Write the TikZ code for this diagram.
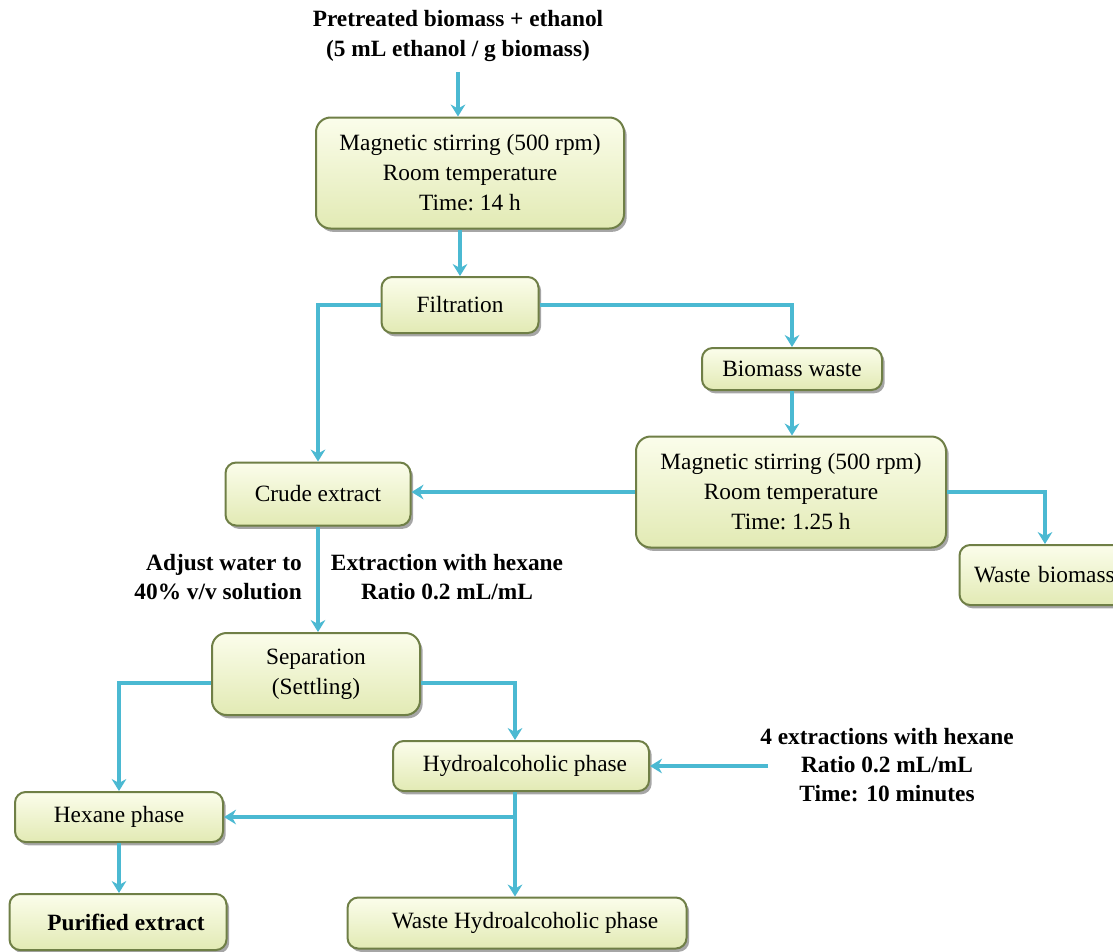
\documentclass[tikz,border=0pt]{standalone}
\usepackage{fontspec}
\setmainfont{Liberation Serif}
\usetikzlibrary{arrows.meta,shadows,calc}
\definecolor{arrc}{HTML}{4BB9D2}
\definecolor{boxline}{HTML}{6F7F46}
\definecolor{boxtop}{HTML}{FBFDEB}
\definecolor{boxbot}{HTML}{E2EAB4}
\newdimen\pu \pu=0.75pt
\tikzset{
  box/.style={draw=boxline, line width=1.5pt, rounded corners=11pt, top color=boxtop, bottom color=boxbot,
    drop shadow={shadow xshift=2pt, shadow yshift=-2.5pt, fill=black, opacity=0.35},
    align=center, font=\fontsize{17.5pt}{22.5pt}\selectfont, inner sep=0pt},
  sbox/.style={box, rounded corners=8pt},
  lbl/.style={font=\fontsize{17.5pt}{21.5pt}\selectfont\bfseries, inner sep=0pt},
  arr/.style={draw=arrc, line width=2.3pt, -{Stealth[length=9pt,width=11pt,inset=3pt]}}
}
\begin{document}
\begin{tikzpicture}[x=0.75pt,y=-0.75pt]
\useasboundingbox[fill=white] (0,0) rectangle (1113,951);
\node[lbl, align=center, font=\fontsize{17.5pt}{22.5pt}\selectfont\bfseries] (src) at (458,36) {Pretreated biomass + ethanol\\(5 mL ethanol / g biomass)};
\node[box, minimum width=308*\pu, minimum height=111*\pu] (b1) at (470,173) {Magnetic stirring (500 rpm)\\Room temperature\\Time:\ 14 h};
\node[sbox, minimum width=157*\pu, minimum height=56*\pu] (filt) at (460,305) {Filtration};
\node[sbox, minimum width=180*\pu, minimum height=42*\pu] (bw) at (792,369) {Biomass waste};
\node[box, minimum width=310*\pu, minimum height=111*\pu] (b2) at (791,492) {Magnetic stirring (500 rpm)\\Room temperature\\Time:\ 1.25 h};
\node[sbox, minimum width=185*\pu, minimum height=63*\pu] (crude) at (318,494) {Crude extract};
\node[sbox, minimum width=175*\pu, minimum height=60*\pu, text width=170*\pu, align=left] (wb) at (1047,575) {\hspace*{12\pu}Waste biomass};
\node[lbl, anchor=east, align=right] (adj) at (302,577) {Adjust water to\\40\% v/v solution};
\node[lbl, align=center] (ext) at (447,577) {Extraction with hexane\\Ratio 0.2 mL/mL};
\node[box, minimum width=208*\pu, minimum height=82*\pu] (sep) at (316,674) {Separation\\(Settling)};
\node[sbox, minimum width=256*\pu, minimum height=50*\pu] (hydro) at (521,766) {\hspace*{8\pu}Hydroalcoholic phase};
\node[lbl, align=center] (four) at (887,765) {4 extractions with hexane\\Ratio 0.2 mL/mL\\Time: 10 minutes};
\node[sbox, minimum width=208*\pu, minimum height=50*\pu] (hex) at (119,817) {Hexane phase};
\node[sbox, minimum width=217*\pu, minimum height=56*\pu] (pur) at (118,922) {\hspace*{16\pu}\bfseries Purified extract};
\node[sbox, minimum width=339*\pu, minimum height=51*\pu] (whyd) at (517,923) {\hspace*{16\pu}Waste Hydroalcoholic phase};
% connectors
\draw[arr] ($(src.south)+(0,10)$) -- (src.south |- b1.north);
\draw[arr] (b1.south -| filt.north) -- (filt.north);
\draw[arr] (filt.west) -| (crude.north);
\draw[arr] (filt.east) -| (bw.north);
\draw[arr] (bw.south) -- (bw.south |- b2.north);
\draw[arr] (b2.west) -- (b2.west -| crude.east);
\draw[arr] (b2.east) -| ($(wb.north)+(-2,0)$);
\draw[arr] (crude.south) -- (crude.south |- sep.north);
\coordinate (sepl) at ($(sep.west)+(0,9)$);
\coordinate (sepr) at ($(sep.east)+(0,9)$);
\draw[arr] (sepl) -| (hex.north);
\draw[arr] (sepr) -| ($(hydro.north)+(-6,0)$);
\coordinate (fin) at ($(four.west |- hydro.east)+(8,0)$);
\draw[arr] (fin) -- (hydro.east);
\coordinate (hb) at ($(hydro.south)+(-6,0)$);
\draw[arr] (hb) -- (hb |- whyd.north);
\coordinate (jn) at (hb |- hex.east);
\draw[arr] (jn) -- (hex.east);
\draw[arr] (hex.south) -- (hex.south |- pur.north);
\end{tikzpicture}
\end{document}
